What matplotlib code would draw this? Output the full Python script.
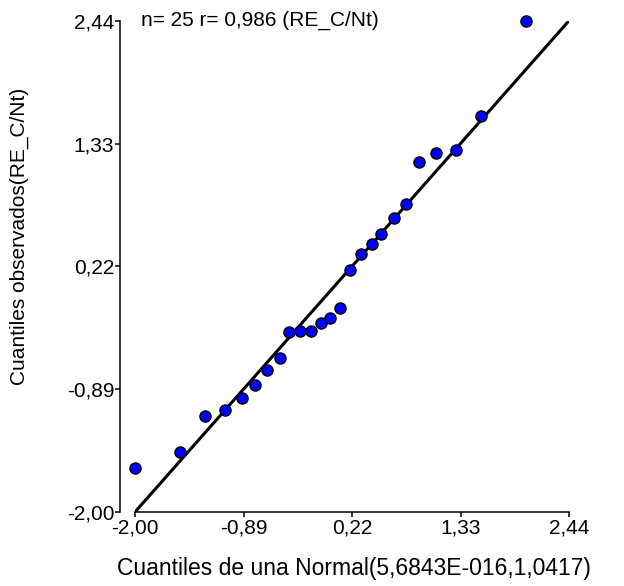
import matplotlib
matplotlib.use('Agg')
import matplotlib.pyplot as plt
import numpy as np

plt.rcParams['font.family'] = ['Liberation Sans', 'DejaVu Sans']

# theoretical quantiles (Normal) vs observed quantiles
theo = [-2.00, -1.54, -1.28, -1.08, -0.91, -0.77, -0.65, -0.52, -0.42, -0.31, -0.20, -0.10, 0.00,
        0.10, 0.20, 0.31, 0.42, 0.52, 0.65, 0.77, 0.91, 1.08, 1.28, 1.54, 2.00]
obs = [-1.60, -1.46, -1.13, -1.08, -0.97, -0.85, -0.72, -0.61, -0.37, -0.36, -0.36, -0.29, -0.25,
       -0.16, 0.19, 0.33, 0.42, 0.51, 0.66, 0.78, 1.16, 1.24, 1.27, 1.58, 2.44]
ticks = [-2.00, -0.89, 0.22, 1.33, 2.44]
tick_labels = ['-2,00', '-0,89', '0,22', '1,33', '2,44']

W, H = 624, 586
fig = plt.figure(figsize=(W / 100, H / 100), dpi=100)
ax = fig.add_axes([135 / W, 1 - 512 / H, 434 / W, 491.3 / H])

# reference line y = x
ax.plot([-2.0, 2.44], [-2.0, 2.44], color='black', lw=2.2, solid_capstyle='butt', zorder=2)
ax.plot(theo, obs, 'o', color='#0000FF', markeredgecolor='black', markeredgewidth=1,
        markersize=8, clip_on=False, zorder=3)

ax.set_xlim(-2.0, 2.44)
ax.set_ylim(-2.0, 2.44)
ax.set_xticks(ticks)
ax.set_xticklabels(tick_labels)
ax.set_yticks(ticks)
ax.set_yticklabels(tick_labels)

for s in ['top', 'right']:
    ax.spines[s].set_visible(False)
ax.spines['left'].set_position(('outward', 11))
ax.spines['left'].set_linewidth(1.1)
ax.spines['bottom'].set_linewidth(1.1)
ax.tick_params(axis='both', length=3.5, width=1.1, labelsize=15, pad=1.5, colors='black')
ax.tick_params(axis='y', pad=0.5)

ax.text(-1.94, 2.44, 'n= 25 r= 0,986 (RE_C/Nt)', fontsize=15, va='center', ha='left')

fig.text(354 / W, 1 - 568 / H, 'Cuantiles de una Normal(5,6843E-016,1,0417)',
         fontsize=16.5, ha='center', va='center')
fig.text(19 / W, 1 - 236 / H, 'Cuantiles observados(RE_C/Nt)',
         fontsize=15, ha='center', va='center', rotation=90)

fig.savefig('out.png', dpi=100)
